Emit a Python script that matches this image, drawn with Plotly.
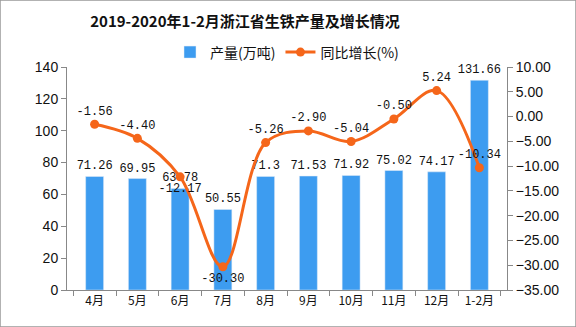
import plotly.graph_objects as go

months = ["4月", "5月", "6月", "7月", "8月", "9月", "10月", "11月", "12月", "1-2月"]
output = [71.26, 69.95, 63.78, 50.55, 71.3, 71.53, 71.92, 75.02, 74.17, 131.66]
output_labels = ["71.26", "69.95", "63.78", "50.55", "71.3", "71.53", "71.92", "75.02", "74.17", "131.66"]
growth = [-1.56, -4.40, -12.17, -30.30, -5.26, -2.90, -5.04, -0.50, 5.24, -10.34]
growth_labels = ["-1.56", "-4.40", "-12.17", "-30.30", "-5.26", "-2.90", "-5.04", "-0.50", "5.24", "-10.34"]
growth_pos = ["top center", "top center", "bottom center", "bottom center", "top center",
              "top center", "top center", "top center", "top center", "top center"]

txtfont = dict(family="Liberation Mono, DejaVu Sans Mono", size=12, color="#111")

fig = go.Figure()
fig.add_trace(go.Bar(
    x=months, y=output, name="产量(万吨)", marker_color="#3d9cf0",
    text=output_labels, textposition="outside", textfont=txtfont, cliponaxis=False,
    constraintext="none",
))
fig.add_trace(go.Scatter(
    x=months, y=growth, name="同比增长(%)", yaxis="y2", mode="lines+markers+text",
    line=dict(color="#f5661a", width=3, shape="spline", smoothing=1.0),
    marker=dict(color="#f5661a", size=9),
    text=growth_labels, textposition=growth_pos, textfont=txtfont, cliponaxis=False,
))

axfont = dict(family="Liberation Sans, Arial", size=14, color="#111")
fig.update_layout(
    width=576, height=327,
    margin=dict(l=67, r=69, t=67, b=37),
    paper_bgcolor="white", plot_bgcolor="white",
    title=dict(text="<b>2019-2020年1-2月浙江省生铁产量及增长情况</b>", x=245/576, xanchor="center",
               y=0.935, yanchor="middle",
               font=dict(family="Noto Sans CJK SC", size=15, color="#111")),
    legend=dict(orientation="h", x=0.5, xanchor="center", y=1.065, yanchor="middle",
                font=dict(family="Noto Sans CJK SC", size=14, color="#111"),
                bgcolor="rgba(0,0,0,0)"),
    bargap=0.58,
    showlegend=True,
    xaxis=dict(showline=True, linecolor="#888", ticks="outside", tickson="boundaries",
               ticklen=5, tickcolor="#888", tickfont=dict(family="Noto Sans CJK SC", size=12, color="#111"),
               showgrid=False),
    yaxis=dict(range=[0, 140], dtick=20, showline=True, linecolor="#888", ticks="outside",
               ticklen=5, tickcolor="#888", showgrid=False, zeroline=False, tickfont=axfont),
    yaxis2=dict(range=[-35, 10], dtick=5, overlaying="y", side="right", tickformat=".2f",
                showline=True, linecolor="#888", ticks="outside", ticklen=5, tickcolor="#888",
                showgrid=False, zeroline=False, tickfont=axfont),
    shapes=[dict(type="rect", xref="paper", yref="paper", x0=-67/440, x1=1+69/440,
                 y0=-37/223, y1=1+67/223, line=dict(color="#999", width=1.5))],
)
fig.write_html("out.html")
